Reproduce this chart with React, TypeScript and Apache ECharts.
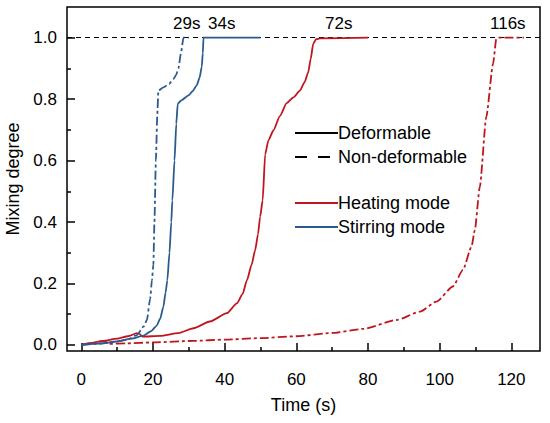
import React, { useEffect, useRef } from "react";
import * as echarts from "echarts";

const FONT = "'Liberation Sans', Arial, Helvetica, sans-serif";
const RED = "#C0151F";
const BLUE = "#2A5B8E";

const xMajorTicks = [0, 20, 40, 60, 80, 100, 120];
const xMinorTicks = [10, 30, 50, 70, 90, 110];
const yMajorTicks = [0, 0.2, 0.4, 0.6, 0.8, 1.0];
const yMinorTicks = [0.1, 0.3, 0.5, 0.7, 0.9];

const stirringDeformable = [
  [0, 0], [5, 0.004], [10, 0.011], [14, 0.02], [17.4, 0.03], [19.5, 0.045], [21, 0.062],
  [22, 0.085], [22.9, 0.124], [23.5, 0.17], [24, 0.21], [24.6, 0.3], [25.1, 0.4], [25.4, 0.47],
  [26, 0.6], [26.5, 0.72], [26.9, 0.785], [28, 0.797], [29.9, 0.812], [31, 0.825], [32.2, 0.845],
  [33, 0.87], [33.6, 0.905], [33.9, 0.95], [34.1, 1.0], [50, 1.0],
];

const stirringNonDeformable = [
  [0, 0], [5, 0.004], [10, 0.011], [13, 0.018], [15.5, 0.032], [17.4, 0.06], [18.3, 0.081],
  [19.2, 0.15], [19.7, 0.21], [20.1, 0.26], [20.4, 0.4], [20.8, 0.6], [21.2, 0.75], [21.5, 0.828],
  [22.9, 0.838], [24.5, 0.85], [25.7, 0.865], [26.5, 0.88], [27.1, 0.9], [27.8, 0.95], [28.5, 1.0],
  [30, 1.0],
];

const heatingDeformable = [
  [0, 0], [3, 0.006], [6, 0.013], [10, 0.02], [13, 0.028], [15.5, 0.038], [16.2, 0.036],
  [17, 0.027], [22, 0.029], [27, 0.038], [31.3, 0.054], [35.9, 0.076], [40.6, 0.103],
  [43.4, 0.135], [45, 0.165], [46.2, 0.21], [47.5, 0.26], [48.5, 0.308], [49.3, 0.36],
  [49.9, 0.417], [50.6, 0.47], [51.3, 0.62], [52.2, 0.666], [53.6, 0.698], [55.4, 0.745],
  [57.3, 0.787], [59.2, 0.806], [61, 0.828], [62.3, 0.855], [63.3, 0.887], [64, 0.93],
  [64.7, 0.98], [65.5, 0.995], [66.6, 0.998], [80, 1.0],
];

const heatingNonDeformable = [
  [0, 0], [3, 0.006], [6.5, 0.013], [7.6, 0.003], [12.7, 0.005], [20, 0.008], [31.3, 0.013],
  [40, 0.017], [50, 0.022], [60, 0.028], [70, 0.039], [78.7, 0.052], [88, 0.081], [94.5, 0.108],
  [99.1, 0.141], [103.7, 0.19], [106.5, 0.244], [108.9, 0.32], [109.8, 0.373], [111.2, 0.514],
  [113, 0.741], [114.9, 0.915], [115.8, 0.996], [116.5, 1.0], [123.5, 1.0],
];

const annotations = [
  { text: "29s", x: 173 },
  { text: "34s", x: 208 },
  { text: "72s", x: 325 },
  { text: "116s", x: 490 },
];

const legendRows = [
  { text: "Deformable", y: 133, color: "#000", dash: null as number[] | null },
  { text: "Non-deformable", y: 157, color: "#000", dash: [12, 11] },
  { text: "Heating mode", y: 203, color: RED, dash: null },
  { text: "Stirring mode", y: 227, color: BLUE, dash: null },
];

const DASH_DOT = [9, 3, 3, 3];

export default function App() {
  const ref = useRef<HTMLDivElement>(null);

  useEffect(() => {
    if (!ref.current) return;
    const chart = echarts.init(ref.current, undefined, { renderer: "svg" });

    const xBase = {
      type: "value" as const,
      min: -4,
      max: 128,
      position: "bottom" as const,
      offset: 0,
      gridIndex: 0,
      axisLine: { show: false, onZero: false },
      splitLine: { show: false },
    };
    const yBase = {
      type: "value" as const,
      min: -0.02,
      max: 1.1,
      position: "left" as const,
      offset: 0,
      gridIndex: 0,
      axisLine: { show: false, onZero: false },
      splitLine: { show: false },
    };

    const graphics: any[] = [];
    annotations.forEach((a) => {
      graphics.push({
        type: "text",
        x: a.x,
        y: 23,
        style: { text: a.text, fontSize: 17, fontFamily: FONT, fill: "#000", align: "left", verticalAlign: "middle" },
      });
    });
    legendRows.forEach((r) => {
      graphics.push({
        type: "line",
        shape: { x1: 295, y1: r.y, x2: 338, y2: r.y },
        style: { stroke: r.color, lineWidth: 2, lineDash: r.dash || undefined },
      });
      graphics.push({
        type: "text",
        x: 338,
        y: r.y,
        style: { text: r.text, fontSize: 18, fontFamily: FONT, fill: "#000", align: "left", verticalAlign: "middle" },
      });
    });

    const lineSeries = (data: number[][], color: string, dash: any, extra: any = {}) => ({
      type: "line",
      data,
      showSymbol: false,
      symbol: "none",
      smooth: 0.2,
      smoothMonotone: "x",
      lineStyle: { color, width: 1.8, type: dash },
      xAxisIndex: 0,
      yAxisIndex: 0,
      z: 3,
      ...extra,
    });

    chart.setOption({
      animation: false,
      backgroundColor: "#fff",
      textStyle: { fontFamily: FONT },
      grid: {
        left: 67,
        right: 10,
        top: 7,
        bottom: 72,
        show: true,
        borderColor: "#000",
        borderWidth: 1.5,
        backgroundColor: "transparent",
        outerBoundsMode: "none",
      },
      xAxis: [
        {
          ...xBase,
          name: "Time (s)",
          nameLocation: "middle",
          nameGap: 45,
          nameTextStyle: { fontSize: 18, color: "#000", fontFamily: FONT },
          axisTick: { show: true, inside: true, length: 8, customValues: xMajorTicks, lineStyle: { color: "#000", width: 1.5 } },
          axisLabel: { show: true, customValues: xMajorTicks, margin: 20, fontSize: 17, color: "#000", fontFamily: FONT },
        },
        {
          ...xBase,
          axisTick: { show: true, inside: true, length: 4, customValues: xMinorTicks, lineStyle: { color: "#000", width: 1.5 } },
          axisLabel: { show: false },
        },
      ],
      yAxis: [
        {
          ...yBase,
          name: "Mixing degree",
          nameLocation: "middle",
          nameGap: 41,
          nameTextStyle: { fontSize: 18, color: "#000", fontFamily: FONT },
          axisTick: { show: true, inside: true, length: 8, customValues: yMajorTicks, lineStyle: { color: "#000", width: 1.5 } },
          axisLabel: {
            show: true,
            customValues: yMajorTicks,
            margin: 10,
            fontSize: 17,
            color: "#000",
            fontFamily: FONT,
            formatter: (v: number) => v.toFixed(1),
          },
        },
        {
          ...yBase,
          axisTick: { show: true, inside: true, length: 4, customValues: yMinorTicks, lineStyle: { color: "#000", width: 1.5 } },
          axisLabel: { show: false },
        },
      ],
      series: [
        lineSeries(heatingNonDeformable, RED, DASH_DOT, {
          markLine: {
            silent: true,
            symbol: "none",
            label: { show: false },
            lineStyle: { color: "#000", width: 1, type: [5, 4] },
            data: [{ yAxis: 1 }],
            z: 2,
          },
        }),
        lineSeries(heatingDeformable, RED, "solid"),
        lineSeries(stirringNonDeformable, BLUE, DASH_DOT),
        lineSeries(stirringDeformable, BLUE, "solid"),
      ],
      graphic: graphics,
    });

    return () => chart.dispose();
  }, []);

  return (
    <div
      ref={ref}
      style={{ position: "absolute", left: 0, top: 0, width: 550, height: 423, background: "#fff" }}
    />
  );
}
